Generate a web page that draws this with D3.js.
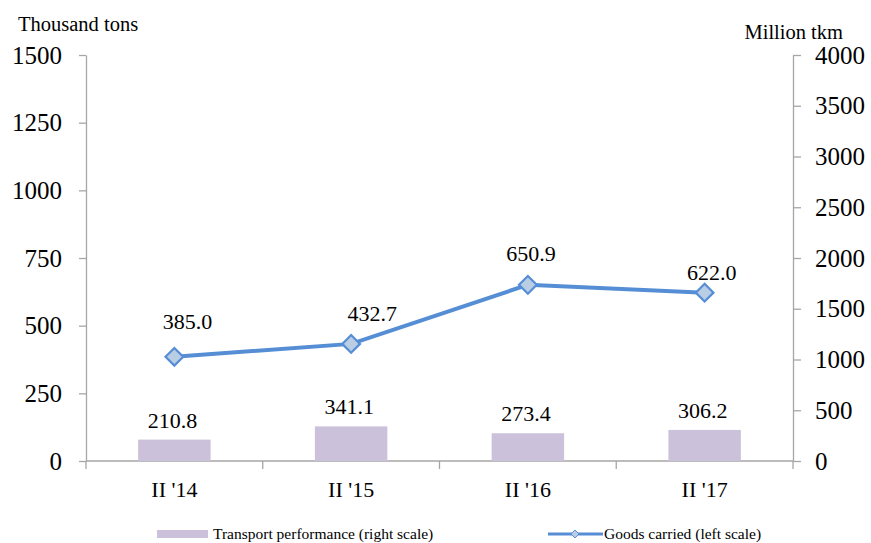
<!DOCTYPE html>
<html>
<head>
<meta charset="utf-8">
<title>Goods carried and transport performance</title>
<script src="https://d3js.org/d3.v7.min.js"></script>
<style>
  body { margin: 0; background: #fff; }
  svg text { font-family: "Liberation Serif", "Times New Roman", serif; fill: #000; }
</style>
</head>
<body>
<svg id="chart" width="871" height="543"></svg>
<script>
// data
var quarters = ["II '14", "II '15", "II '16", "II '17"];
var transport = [210.8, 341.1, 273.4, 306.2];   // million tkm, right scale (bars)
var goods = [385.0, 432.7, 650.9, 622.0];       // thousand tons, left scale (line)
var leftTicks = [0, 250, 500, 750, 1000, 1250, 1500];
var rightTicks = [0, 500, 1000, 1500, 2000, 2500, 3000, 3500, 4000];

// label nudges for the line labels (Excel placed them by hand-ish)
var goodsLabelShift = [[13, -35], [21, -30], [3, -31], [7, -20]];

var svg = d3.select("#chart");
var plotLeft = 86, plotRight = 793, plotTop = 55, plotBottom = 461;
var axisColor = "#a6a6a6";

var x = d3.scaleBand().domain(quarters).range([plotLeft, plotRight]).padding(0);
var yL = d3.scaleLinear().domain([0, 1500]).range([plotBottom, plotTop]);
var yR = d3.scaleLinear().domain([0, 4000]).range([plotBottom, plotTop]);

// left axis
var gl = svg.append("g").attr("transform", "translate(" + plotLeft + ",0)")
  .call(d3.axisLeft(yL).tickValues(leftTicks).tickFormat(d3.format("d"))
    .tickSize(7).tickPadding(17).tickSizeOuter(0));
// right axis
var gr = svg.append("g").attr("transform", "translate(" + plotRight + ",0)")
  .call(d3.axisRight(yR).tickValues(rightTicks).tickFormat(d3.format("d"))
    .tickSize(8).tickPadding(14).tickSizeOuter(0));
[gl, gr].forEach(function(g) {
  g.select(".domain").attr("stroke", axisColor).attr("stroke-width", 1.3);
  g.selectAll(".tick line").attr("stroke", axisColor).attr("stroke-width", 1.3);
  g.selectAll(".tick text").style("font-size", "25px").attr("fill", "#000")
    .style("font-family", "'Liberation Serif', serif");
});

// bottom axis
svg.append("line").attr("x1", plotLeft).attr("x2", plotRight).attr("y1", plotBottom).attr("y2", plotBottom)
  .attr("stroke", axisColor).attr("stroke-width", 1.3);
var edges = quarters.map(function(q) { return x(q); }).concat([x(quarters[quarters.length - 1]) + x.bandwidth()]);
svg.selectAll(".xtick").data(edges).enter().append("line")
  .attr("x1", function(d) { return d; }).attr("x2", function(d) { return d; })
  .attr("y1", plotBottom).attr("y2", plotBottom + 8)
  .attr("stroke", axisColor).attr("stroke-width", 1.3);
svg.selectAll(".xlab").data(quarters).enter().append("text")
  .attr("x", function(d) { return x(d) + x.bandwidth() / 2; })
  .attr("y", 497).attr("text-anchor", "middle").style("font-size", "22px")
  .text(function(d) { return d; });

// axis titles
svg.append("text").attr("x", 18).attr("y", 31).style("font-size", "20.5px").text("Thousand tons");
svg.append("text").attr("x", 843).attr("y", 39).attr("text-anchor", "end").style("font-size", "20.5px").text("Million tkm");

// bars (right scale)
var barW = x.bandwidth() * 0.41;
svg.selectAll(".bar").data(transport).enter().append("rect")
  .attr("x", function(d, i) { return x(quarters[i]) + (x.bandwidth() - barW) / 2; })
  .attr("y", function(d) { return yR(d); })
  .attr("width", barW)
  .attr("height", function(d) { return plotBottom - yR(d); })
  .attr("fill", "#ccc1da");
svg.selectAll(".barlab").data(transport).enter().append("text")
  .attr("x", function(d, i) { return x(quarters[i]) + x.bandwidth() / 2 - 2; })
  .attr("y", function(d) { return yR(d) - 12; })
  .attr("text-anchor", "middle").style("font-size", "22px")
  .text(function(d) { return d.toFixed(1); });

// line (left scale)
var cx = function(d, i) { return x(quarters[i]) + x.bandwidth() / 2; };
var line = d3.line().x(cx).y(function(d) { return yL(d); });
svg.append("path").datum(goods).attr("d", line)
  .attr("fill", "none").attr("stroke", "#558ed5").attr("stroke-width", 4);
var diamond = d3.symbol().type(d3.symbolDiamond2).size(200);
svg.selectAll(".pt").data(goods).enter().append("path")
  .attr("d", diamond)
  .attr("transform", function(d, i) { return "translate(" + cx(d, i) + "," + yL(d) + ")"; })
  .attr("fill", "#b9cde5").attr("stroke", "#558ed5").attr("stroke-width", 2.2);
svg.selectAll(".ptlab").data(goods).enter().append("text")
  .attr("x", function(d, i) { return cx(d, i) + goodsLabelShift[i][0]; })
  .attr("y", function(d, i) { return yL(d) + goodsLabelShift[i][1] + 7; })
  .attr("text-anchor", "middle").style("font-size", "22px")
  .text(function(d) { return d.toFixed(1); });

// legend
var lg = svg.append("g");
lg.append("rect").attr("x", 157).attr("y", 530).attr("width", 51).attr("height", 8).attr("fill", "#ccc1da");
lg.append("text").attr("x", 213).attr("y", 539).style("font-size", "15.5px").text("Transport performance (right scale)");
lg.append("line").attr("x1", 548).attr("x2", 603).attr("y1", 534).attr("y2", 534)
  .attr("stroke", "#558ed5").attr("stroke-width", 3);
lg.append("path").attr("d", d3.symbol().type(d3.symbolDiamond2).size(40))
  .attr("transform", "translate(575,534)").attr("fill", "#b9cde5").attr("stroke", "#558ed5").attr("stroke-width", 1);
lg.append("text").attr("x", 604).attr("y", 539).style("font-size", "15.5px").text("Goods carried (left scale)");
</script>
</body>
</html>
